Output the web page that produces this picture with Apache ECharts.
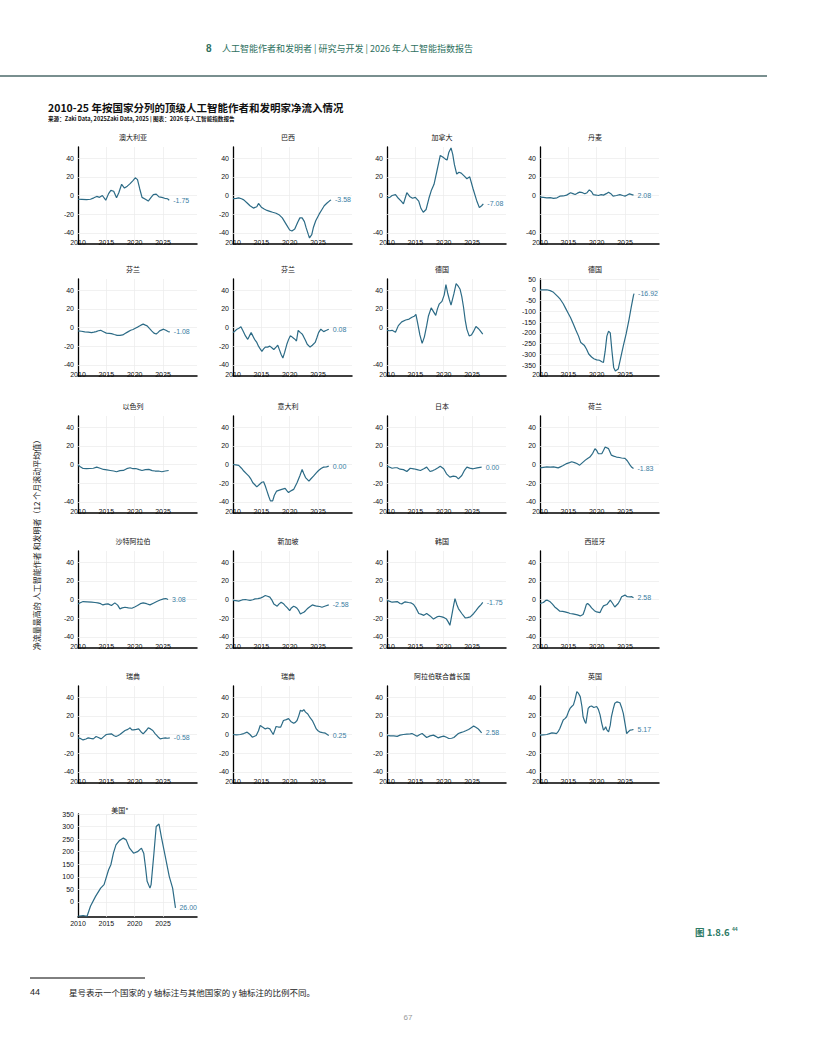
<!DOCTYPE html>
<html><head><meta charset="utf-8">
<script src="https://cdn.jsdelivr.net/npm/echarts@6/dist/echarts.min.js"></script>
<style>html,body{margin:0;padding:0;background:#fff}#c{width:816px;height:1056px}</style>
</head><body><div id="c"></div>
<script>
// ---------------- DATA ----------------
const panelTitles = ['澳大利亚','巴西','加拿大','丹麦','芬兰','芬兰','德国','德国','以色列','意大利','日本','荷兰','沙特阿拉伯','新加坡','韩国','西班牙','瑞典','瑞典','阿拉伯联合酋长国','英国','美国*'];
const endLabels = ['-1.75','-3.58','-7.08','2.08','-1.08','0.08','','-16.92','','0.00','0.00','-1.83','3.08','-2.58','-1.75','2.58','-0.58','0.25','2.58','5.17','26.00'];
const xTickLabels = [2010,2015,2020,2025];
const yTicksStd = [-40,-20,0,20,40];
const yTicksNo20 = [-40,0,20,40];
const yTicksGermany2 = [50,0,-50,-100,-150,-200,-250,-300,-350];
const yTicksUS = [0,50,100,150,200,250,300,350];

const australia = [[2010,-4],[2010.7,-4.2],[2011.5,-4.5],[2012.2,-4],[2012.8,-2.5],[2013.3,-1],[2013.8,-2],[2014.3,0],[2014.9,-5],[2015.4,2],[2015.8,5.5],[2016.3,4.5],[2016.8,-2.5],[2017.2,3],[2017.7,12],[2018.2,8],[2018.7,10],[2019.2,12.7],[2019.7,16],[2020.1,19],[2020.5,17],[2020.9,7],[2021.3,-2],[2021.9,-4],[2022.4,-6],[2022.9,-2],[2023.3,1],[2023.8,1.5],[2024.3,-1.5],[2024.8,-2],[2025.3,-3],[2025.8,-3.5],[2026.1,-5]];
const brazil = [[2010,-3.3],[2010.6,-3],[2011,-2.5],[2011.5,-3.5],[2011.9,-4.7],[2012.5,-8],[2013,-11],[2013.6,-13.5],[2014.2,-12],[2014.5,-8.5],[2015,-12.5],[2015.5,-14.5],[2016,-16],[2016.5,-17],[2017,-18],[2017.6,-19],[2018.2,-21],[2018.7,-24],[2019.1,-28],[2019.5,-32],[2020,-37],[2020.4,-38],[2020.9,-36],[2021.4,-29],[2021.8,-24],[2022.2,-24],[2022.6,-28],[2022.9,-34.5],[2023.3,-42],[2023.5,-45.5],[2023.9,-42],[2024.2,-34],[2024.6,-27],[2025.2,-20],[2025.7,-15],[2026.1,-11],[2026.6,-8],[2027,-6],[2027.3,-4.7]];
const canada = [[2010,-2.5],[2010.5,-2],[2010.9,0],[2011.5,1],[2012,-3],[2012.5,-6],[2012.9,-9],[2013.5,3],[2014,-1],[2014.5,-3],[2015,-2],[2015.6,-6],[2016,-14],[2016.4,-18],[2016.9,-15],[2017.4,-3],[2017.8,5],[2018.3,12],[2018.8,26],[2019.4,43],[2019.9,41],[2020.3,39],[2020.6,38],[2020.9,46],[2021.3,51],[2021.6,44],[2021.9,33],[2022.3,23],[2022.7,25],[2023.1,24],[2023.6,21],[2024.1,18],[2024.6,20],[2025.2,7],[2025.8,-5],[2026.3,-13],[2026.7,-11],[2027,-9]];
const denmark = [[2010,-1.8],[2010.6,-2],[2011.2,-2.5],[2011.8,-2.2],[2012.4,-3],[2013,-2.5],[2013.5,-0.7],[2014.1,-0.5],[2014.7,0.4],[2015.4,3],[2015.8,2],[2016.2,1],[2016.6,2.5],[2017,3.6],[2017.5,3],[2017.9,1.8],[2018.3,3],[2018.7,6],[2019.1,4],[2019.4,1],[2019.9,0.5],[2020.3,0],[2020.8,1],[2021.2,0.4],[2021.7,2],[2022.1,3.6],[2022.5,2],[2022.9,-0.7],[2023.5,0],[2024.1,1],[2024.6,0],[2025,-0.7],[2025.4,0.5],[2025.8,1.8],[2026.2,1],[2026.5,0.4]];
const finland1 = [[2010,-3.6],[2010.6,-4],[2011.2,-4.7],[2011.8,-5],[2012.4,-5.5],[2012.8,-5],[2013.2,-4.4],[2013.6,-3.5],[2014,-3],[2014.5,-4.5],[2015,-6],[2015.5,-6.2],[2015.9,-6.5],[2016.4,-7.5],[2016.9,-8.4],[2017.4,-8.5],[2017.9,-8],[2018.3,-6.5],[2018.8,-4.7],[2019.3,-3],[2019.7,-2.2],[2020.2,-0.5],[2020.6,0.7],[2021.1,2.5],[2021.5,3.6],[2021.9,2.5],[2022.2,1.8],[2022.6,-1],[2023,-3.6],[2023.4,-6],[2023.8,-7],[2024.1,-5.5],[2024.4,-3.6],[2024.8,-2.5],[2025.1,-1.8],[2025.5,-3],[2025.9,-4.4],[2026.2,-4.7]];
const finland2 = [[2010,-5.5],[2010.4,-3.5],[2010.7,-1.8],[2011.1,-0.5],[2011.4,0.7],[2011.8,-4],[2012.2,-9],[2012.6,-12.7],[2012.9,-9],[2013.2,-5.5],[2013.5,-9],[2013.8,-12.7],[2014.2,-16],[2014.5,-20],[2014.8,-23],[2015.1,-25.5],[2015.4,-23],[2015.7,-21],[2016.1,-21],[2016.5,-20],[2016.9,-22],[2017.2,-23.6],[2017.6,-21],[2017.9,-19],[2018.2,-24],[2018.5,-29],[2018.8,-32.7],[2019.1,-27],[2019.5,-18],[2019.8,-13],[2020.1,-9],[2020.4,-10],[2020.7,-11.6],[2021,-13],[2021.2,-14.5],[2021.5,-3],[2021.9,-5.5],[2022.2,-7],[2022.4,-9],[2022.8,-14],[2023.1,-18],[2023.6,-21],[2024,-19],[2024.5,-16],[2024.8,-11],[2025.1,-5.5],[2025.5,-1.8],[2026,-4.4],[2026.5,-3],[2026.9,-1.8]];
const germany1 = [[2010,-3],[2010.5,-3.5],[2010.9,-3],[2011.5,-5],[2012,2],[2012.6,6],[2013.3,8],[2013.9,9],[2014.4,11],[2014.8,12],[2015.1,14],[2015.4,5],[2015.8,-8],[2016.2,-17],[2016.6,-10],[2017,2],[2017.3,12],[2017.8,21],[2018.2,17],[2018.6,13],[2018.9,20],[2019.2,25],[2019.7,28],[2020.1,35],[2020.4,46],[2020.7,37],[2021,30],[2021.3,24],[2021.8,36],[2022.2,47],[2022.6,44],[2022.9,41],[2023.2,33],[2023.5,22],[2023.8,8],[2024.1,-2],[2024.5,-9],[2024.9,-8],[2025.2,-5],[2025.7,1],[2026.1,-1],[2026.4,-3],[2026.9,-7]];
const germany2 = [[2010,0],[2011.2,0],[2011.8,-4],[2012.3,-10],[2012.7,-20],[2013.2,-33],[2013.6,-45],[2014.1,-65],[2014.5,-85],[2015,-110],[2015.4,-130],[2015.9,-160],[2016.3,-185],[2016.8,-215],[2017.2,-245],[2017.8,-257],[2018.2,-275],[2018.6,-298],[2019.1,-312],[2019.5,-320],[2020,-325],[2020.5,-327],[2020.9,-334],[2021.2,-337],[2021.5,-285],[2021.8,-215],[2022.1,-192],[2022.4,-200],[2022.7,-285],[2023,-360],[2023.3,-377],[2023.8,-368],[2024.2,-320],[2024.7,-260],[2025.2,-205],[2025.7,-140],[2026.1,-80],[2026.5,-26],[2026.6,-18]];
const israel = [[2010,-0.5],[2010.4,-2.5],[2010.9,-4.3],[2011.5,-4.5],[2012.1,-4.3],[2012.7,-4],[2013.3,-2.8],[2013.9,-4],[2014.5,-5.3],[2015.1,-5.8],[2015.7,-6.4],[2016.3,-7],[2016.8,-7.8],[2017.4,-6.5],[2018,-6.4],[2018.6,-4.5],[2019.2,-3.5],[2019.7,-4.5],[2020.2,-4.3],[2020.8,-5.5],[2021.3,-6.4],[2021.9,-5.5],[2022.5,-5.3],[2023.1,-6.5],[2023.6,-7],[2024.2,-7],[2024.8,-7.8],[2025.4,-7],[2026,-6.4]];
const italy = [[2010,0],[2010.5,-0.5],[2011,-1],[2011.5,-4],[2011.9,-7],[2012.4,-10],[2012.8,-12.5],[2013.2,-16],[2013.5,-19.6],[2013.9,-22],[2014.2,-24],[2014.8,-20.6],[2015.1,-19],[2015.4,-18.5],[2015.7,-23],[2016,-28.5],[2016.3,-34],[2016.6,-39],[2017,-39],[2017.3,-33],[2017.7,-28.5],[2018.2,-27.5],[2018.6,-26.7],[2019.2,-25.6],[2019.5,-28],[2019.8,-30],[2020.3,-28],[2020.7,-26.7],[2021.3,-19.6],[2021.8,-12],[2022.2,-5.3],[2022.5,-10],[2022.8,-14],[2023.4,-17.8],[2023.8,-15],[2024.2,-12.5],[2024.7,-9],[2025.1,-6.4],[2025.6,-4],[2026,-2.8],[2026.5,-2.5],[2026.9,-1.8]];
const japan = [[2010,-1.8],[2010.5,-3],[2010.9,-4],[2011.4,-3.5],[2011.8,-3.5],[2012.3,-5],[2012.9,-5.5],[2013.5,-7.5],[2014.1,-4],[2014.7,-4.6],[2015.3,-5.5],[2015.9,-6.4],[2016.5,-4.5],[2017,-2.8],[2017.6,-7.5],[2018.1,-6.5],[2018.5,-5.3],[2019,-3.5],[2019.4,-1.8],[2020,-4.6],[2020.5,-10],[2021.1,-13.6],[2021.7,-12.5],[2022.2,-13],[2022.6,-15.4],[2023.2,-11.8],[2023.7,-6],[2024.1,-2.8],[2024.6,-3.9],[2025.2,-4.6],[2025.9,-3.6],[2026.7,-2.8]];
const netherlands = [[2010,-3.6],[2010.6,-3],[2011.2,-2.5],[2011.8,-2.8],[2012.4,-2.5],[2012.8,-3],[2013.2,-3.6],[2013.6,-2.5],[2014,-1.4],[2014.4,0],[2014.7,1],[2015.2,2],[2015.6,2.9],[2016.1,2],[2016.5,1],[2017,-0.7],[2017.5,2],[2018,4.7],[2018.4,6.5],[2018.8,8],[2019.3,12],[2019.7,17],[2020,15],[2020.3,11.5],[2020.9,11.5],[2021.2,15],[2021.5,18.7],[2022.1,17],[2022.6,10],[2023,9],[2023.5,8],[2024,7.5],[2024.4,7],[2025,6.5],[2025.4,4],[2025.9,-0.7],[2026.2,-3],[2026.5,-4.3]];
const saudiArabia = [[2010,-4.7],[2010.4,-3.5],[2010.9,-2.2],[2011.6,-2.5],[2012.4,-2.9],[2013,-3.2],[2013.5,-3.6],[2014,-4.5],[2014.4,-5.8],[2014.9,-5],[2015.3,-4.7],[2015.9,-6.5],[2016.5,-3.6],[2017,-6],[2017.4,-10],[2017.8,-9],[2018.3,-8.3],[2018.9,-9],[2019.5,-9.4],[2020,-8],[2020.5,-6.5],[2021,-4.5],[2021.5,-3.6],[2022.1,-4.5],[2022.7,-5.8],[2023.3,-4],[2023.9,-2.2],[2024.5,-0.5],[2025.1,0.7],[2025.5,1],[2025.9,0]];
const singapore = [[2010,-1],[2010.5,-1.2],[2011,-1.8],[2011.6,-0.5],[2012.2,0],[2012.6,-0.5],[2013,-1],[2013.5,-0.3],[2013.9,0.7],[2014.4,1],[2014.8,1.4],[2015.2,2.5],[2015.7,4.3],[2016.1,3.5],[2016.5,2.5],[2016.9,-1],[2017.2,-4.7],[2017.8,-7.2],[2018.1,-5],[2018.5,-2.9],[2018.9,-4.5],[2019.2,-6.5],[2019.6,-9],[2020,-12],[2020.3,-9],[2020.7,-7.2],[2021,-8],[2021.3,-9.4],[2021.6,-12],[2021.9,-15.5],[2022.2,-14.5],[2022.5,-13.7],[2022.8,-12],[2023.1,-10],[2023.5,-8],[2024,-5.8],[2024.4,-6.5],[2024.8,-7.2],[2025.3,-7.5],[2025.7,-8.3],[2026.3,-7],[2026.9,-5.8]];
const korea = [[2010,-1],[2010.5,-2],[2010.9,-2.9],[2011.4,-2.5],[2011.8,-2.2],[2012.3,-4.3],[2012.6,-4.7],[2013.2,-2.5],[2013.8,-3.2],[2014.2,-3.6],[2014.7,-5.4],[2015.1,-9],[2015.6,-15],[2016.1,-16],[2016.5,-17],[2017,-15],[2017.6,-17.6],[2018.2,-21],[2018.8,-18.7],[2019.2,-18],[2019.7,-18.7],[2020.1,-19.5],[2020.5,-21],[2020.8,-24],[2021.1,-27.7],[2021.4,-18],[2021.6,-11.5],[2021.8,-5],[2022,1],[2022.3,-5],[2022.6,-9.7],[2023.2,-15],[2023.8,-19.8],[2024.2,-19.5],[2024.7,-18.7],[2025.3,-15],[2025.7,-12],[2026.2,-8],[2026.6,-5.5],[2026.9,-3.2]];
const spain = [[2010,-4.3],[2010.6,-3.2],[2011,-1],[2011.3,-0.7],[2011.8,-2.5],[2012.2,-5],[2012.6,-8],[2013,-10],[2013.5,-12.6],[2014,-12.8],[2014.4,-13.3],[2014.9,-14],[2015.3,-15],[2015.8,-15.5],[2016.2,-16],[2016.6,-16.5],[2017.1,-17.6],[2017.6,-16],[2017.9,-11],[2018.2,-5],[2018.4,-4.3],[2018.8,-6.5],[2019.1,-9],[2019.6,-12],[2020,-13.3],[2020.6,-14],[2020.9,-10],[2021.2,-6.8],[2021.8,-5.4],[2022.1,-3],[2022.4,-0.7],[2022.8,-4],[2023.2,-8],[2023.8,-4.3],[2024.1,-1],[2024.4,2.9],[2025,4.7],[2025.4,3],[2025.9,2.9],[2026.2,3],[2026.5,1.8]];
const sweden1 = [[2010,-3.6],[2010.5,-4.5],[2010.9,-5.8],[2011.4,-4.8],[2011.8,-3.6],[2012.2,-4.2],[2012.7,-4.7],[2013.2,-2.2],[2013.6,-3.2],[2014.1,-4.7],[2014.6,-2],[2015,0],[2015.5,0.5],[2015.9,0.7],[2016.3,-1],[2016.7,-2.2],[2017.1,-1],[2017.4,0],[2017.9,2.5],[2018.3,4.3],[2018.8,5.5],[2019.2,7.2],[2019.5,5],[2019.8,5],[2020.3,5.5],[2020.7,6],[2021.1,3],[2021.5,0.7],[2022,4],[2022.4,7.2],[2022.8,6],[2023.2,4.3],[2023.6,1],[2023.9,-1],[2024.2,-3],[2024.5,-4.7],[2025,-4],[2025.4,-3.6],[2025.8,-4],[2026.2,-3.6]];
const sweden2 = [[2010,0],[2010.6,-0.3],[2011.3,0],[2011.9,1],[2012.5,2.5],[2013,0],[2013.4,-2.9],[2014.1,-1],[2014.5,4],[2014.8,9.7],[2015.2,8],[2015.7,6],[2016.1,7],[2016.5,6],[2016.8,3],[2017.1,0],[2017.4,5],[2017.6,8.6],[2018,8],[2018.4,7.9],[2018.7,12],[2018.9,15],[2019.4,16],[2019.8,17],[2020.2,14],[2020.7,12],[2021,13],[2021.3,15],[2021.6,20],[2021.9,26],[2022.2,25],[2022.5,26.6],[2022.8,24],[2023.2,22],[2023.6,18],[2024,15],[2024.4,10],[2024.7,6],[2025,4],[2025.4,2.5],[2025.8,2],[2026.3,1.4],[2026.9,-1]];
const uae = [[2010,-1],[2010.6,-1.5],[2011.2,-1.5],[2011.8,-2],[2012.3,-0.7],[2012.9,0],[2013.5,0.4],[2014.1,0.7],[2014.4,1],[2014.9,-0.5],[2015.3,-1.8],[2015.8,0],[2016.2,1],[2016.6,-1],[2017,-3.2],[2017.6,-1.5],[2018.2,-0.7],[2018.6,-2],[2019,-3.6],[2019.5,-2.5],[2020,-1.8],[2020.5,-3],[2020.9,-4.3],[2021.4,-4],[2021.8,-3.2],[2022.2,-1],[2022.6,1],[2023,2],[2023.5,2.9],[2023.9,4],[2024.4,5.4],[2024.8,7],[2025.3,9],[2025.6,8],[2026,6.5],[2026.4,4],[2026.7,1.8]];
const uk = [[2010,-0.7],[2010.6,-0.3],[2011.2,0],[2011.7,1],[2012.1,1.8],[2012.5,1.5],[2012.9,1],[2013.2,3],[2013.5,6.5],[2013.8,11],[2014.1,15.5],[2014.4,17],[2014.7,19],[2015,24],[2015.3,28],[2015.6,30],[2015.9,31.7],[2016.2,38],[2016.5,46],[2016.8,44],[2017.1,40.6],[2017.4,30],[2017.6,19],[2017.9,14],[2018.1,11.9],[2018.3,20],[2018.5,28],[2018.8,30],[2019.1,30.6],[2019.5,29],[2020,30],[2020.3,27],[2020.6,21],[2020.9,12],[2021.2,4.7],[2021.4,6],[2021.6,8.3],[2021.8,5],[2022.1,2.9],[2022.4,10],[2022.6,19],[2022.9,27],[2023.2,33.5],[2023.6,35],[2024.1,34],[2024.4,29],[2024.7,22.7],[2025,12],[2025.3,1],[2025.6,3],[2025.9,4.7],[2026.2,5],[2026.5,5.4]];
const usa = [[2010,-57],[2010.9,-54],[2011.6,-57],[2012.2,-17],[2013.1,22],[2014,55],[2014.6,69],[2015.4,128],[2015.8,148],[2016.25,194],[2016.7,227],[2017.3,244],[2018,254],[2018.5,247],[2019.1,214],[2019.8,194],[2020.5,200],[2021.2,214],[2021.6,194],[2021.9,141],[2022.2,82],[2022.7,55],[2022.9,69],[2023.4,194],[2023.8,300],[2024.3,310],[2024.7,260],[2025.4,181],[2026.1,102],[2026.7,55],[2027.2,-24]];

const seriesData = [australia,brazil,canada,denmark,finland1,finland2,germany1,germany2,israel,italy,japan,netherlands,saudiArabia,singapore,korea,spain,sweden1,sweden2,uae,uk,usa];
const labelTicks = [yTicksStd,yTicksStd,yTicksNo20,yTicksNo20,yTicksStd,yTicksStd,yTicksNo20,yTicksGermany2,yTicksNo20,yTicksStd,yTicksStd,yTicksStd,yTicksStd,yTicksStd,yTicksStd,yTicksStd,yTicksStd,yTicksStd,yTicksStd,yTicksStd,yTicksUS];

// ---------------- LAYOUT / STYLE ----------------
const COL_LEFT = [78, 233, 387, 540];
const ROW_BOTTOM = [244, 376, 513, 648, 783];
const PLOT_W = 119, PLOT_H = 97;
const LINE = '#2c6b86', ENDC = '#3a7ea3', GRIDC = '#ebebeb';
const NUMFONT = 'Liberation Sans, Arial, sans-serif';
const CJK = '"Noto Sans CJK SC", sans-serif';

const grids = [], xAxes = [], yAxes = [], series = [], graphics = [];
seriesData.forEach((data, i) => {
  const isUS = i === 20, isDE2 = i === 7;
  const col = i % 4, row = Math.floor(i / 4);
  const left = COL_LEFT[col];
  let top = isUS ? 814 : ROW_BOTTOM[row] - PLOT_H;
  let height = isUS ? 103 : PLOT_H;
  grids.push({left: left, top: top, width: PLOT_W, height: height});
  xAxes.push({
    type: 'value', gridIndex: i, min: 2010, max: 2031, interval: 5,
    axisLine: {onZero: false, lineStyle: {color: '#000', width: 1.5}},
    axisTick: {show: false}, splitLine: {show: false},
    axisLabel: {margin: isUS ? 3 : -5.5, fontSize: 7, color: '#111', fontFamily: NUMFONT,
      showMaxLabel: false, formatter: v => xTickLabels.includes(v) ? String(v) : ''}
  });
  let yr = {min: -52, max: 52, interval: 4};
  if (isDE2) yr = {min: -400, max: 50, interval: 50};
  if (isUS) yr = {min: -60, max: 350, interval: 10};
  const ticks = labelTicks[i];
  yAxes.push({
    type: 'value', gridIndex: i, min: yr.min, max: yr.max, interval: yr.interval,
    axisLine: {show: true, onZero: false, lineStyle: {color: '#000', width: 1.3}},
    axisTick: {show: false}, splitLine: {show: false},
    axisLabel: {margin: 4, fontSize: 7, color: '#111', fontFamily: NUMFONT,
      showMinLabel: true, showMaxLabel: true,
      formatter: v => ticks.includes(v) ? String(v) : ''}
  });
  const gy = isDE2 ? yTicksGermany2 : (isUS ? yTicksUS : yTicksStd);
  const end = endLabels[i];
  series.push({
    type: 'line', xAxisIndex: i, yAxisIndex: i, data: data,
    symbol: 'none', showSymbol: false, animation: false, z: 3,
    lineStyle: {color: LINE, width: 1.2}, itemStyle: {color: LINE},
    emphasis: {disabled: true},
    endLabel: {show: !!end, formatter: () => end, color: ENDC, fontSize: 7, fontFamily: NUMFONT, distance: 4},
    markLine: {
      silent: true, symbol: ['none', 'none'], animation: false, z: 1,
      label: {show: false},
      lineStyle: {color: GRIDC, width: 0.7, type: 'solid'},
      emphasis: {disabled: true},
      data: gy.map(v => ({yAxis: v})).concat([2015, 2020, 2025].map(v => ({xAxis: v})))
    }
  });
  graphics.push({
    type: 'text', x: isUS ? 120 : left + 55, y: isUS ? 810 : top - 10,
    style: {text: panelTitles[i], fontSize: 7, fontFamily: CJK, fill: '#111',
      align: 'center', verticalAlign: 'middle', textAlign: 'center', textVerticalAlign: 'middle'}
  });
});

function txt(x, y, text, opts) {
  return {type: 'text', x: x, y: y, style: Object.assign({
    text: text, fontSize: 8, fontFamily: CJK, fill: '#111',
    align: 'left', verticalAlign: 'middle', textAlign: 'left', textVerticalAlign: 'middle'}, opts || {})};
}
graphics.push(txt(206, 48, '8', {fontSize: 10, fontWeight: 'bold', fill: '#2e7060', fontFamily: NUMFONT}));
graphics.push(txt(222, 48, '人工智能作者和发明者 | 研究与开发 | 2026 年人工智能指数报告', {fontSize: 9, fill: '#2e7060'}));
graphics.push({type: 'line', shape: {x1: 0, y1: 76, x2: 767, y2: 76}, style: {stroke: '#4d6a6a', lineWidth: 1.5}});
graphics.push(txt(48, 107, '2010-25 年按国家分列的顶级人工智能作者和发明家净流入情况', {fontSize: 10.5, fontWeight: 'bold'}));
graphics.push(txt(48, 118.5, '来源：Zaki Data, 2025Zaki Data, 2025 | 图表：2026 年人工智能指数报告', {fontSize: 5.6, fontWeight: 'bold'}));
const vt = txt(36, 543, '净流量最高的 人工智能作者 和发明者（12 个月滚动平均值）', {fontSize: 8, fill: '#222', align: 'center', textAlign: 'center'});
vt.rotation = Math.PI / 2;
graphics.push(vt);
graphics.push(txt(695, 932, '图 1.8.6', {fontSize: 9.5, fontWeight: 'bold', fill: '#2e7a66'}));
graphics.push(txt(732, 928.5, '44', {fontSize: 5, fontWeight: 'bold', fill: '#2e7a66', fontFamily: NUMFONT}));
graphics.push({type: 'line', shape: {x1: 30, y1: 978, x2: 145, y2: 978}, style: {stroke: '#000', lineWidth: 1}});
graphics.push(txt(30, 992, '44', {fontSize: 9, fontFamily: NUMFONT, fill: '#222'}));
graphics.push(txt(69, 992, '星号表示一个国家的 y 轴标注与其他国家的 y 轴标注的比例不同。', {fontSize: 8.5, fill: '#222'}));
graphics.push(txt(408, 1017, '67', {fontSize: 8, fill: '#999', fontFamily: NUMFONT, align: 'center', textAlign: 'center'}));

const chart = echarts.init(document.getElementById('c'), null, {renderer: 'svg'});
chart.setOption({
  animation: false,
  backgroundColor: '#fff',
  grid: grids, xAxis: xAxes, yAxis: yAxes, series: series,
  graphic: {elements: graphics}
});
</script></body></html>
